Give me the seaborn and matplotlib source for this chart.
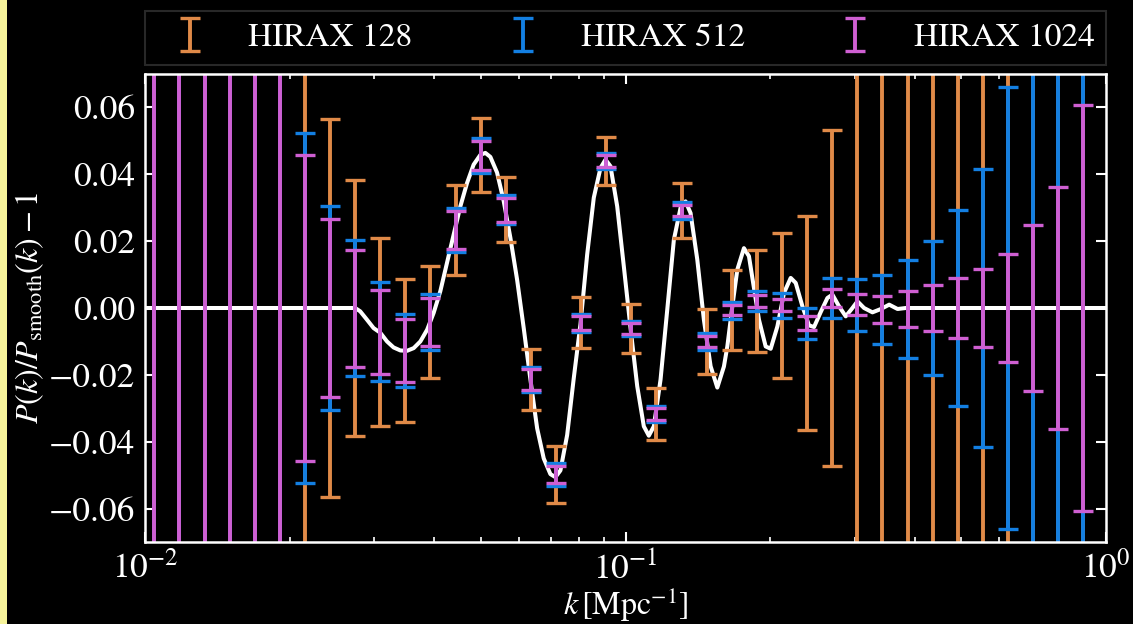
import matplotlib
matplotlib.use("Agg")
import matplotlib.pyplot as plt
import numpy as np
import pandas as pd
import seaborn as sns
from matplotlib.patches import Rectangle
from matplotlib.ticker import LogLocator, NullFormatter, MultipleLocator

# ---------------- data ----------------
k = [0.01046, 0.01179, 0.01330, 0.01500, 0.01692, 0.01908, 0.02152, 0.02427,
     0.02738, 0.03088, 0.03482, 0.03928, 0.04430, 0.04996, 0.05635, 0.06356,
     0.07168, 0.08085, 0.09118, 0.1028, 0.1160, 0.1308, 0.1476, 0.1664,
     0.1877, 0.2117, 0.2387, 0.2693, 0.3037, 0.3425, 0.3863, 0.4357,
     0.4914, 0.5542, 0.6251, 0.7050, 0.7952, 0.8968]

center = [0, 0, 0, 0, 0, 0, 0, 0, 0,
          -0.0071, -0.0127, -0.0042, 0.0233, 0.0457, 0.0294, -0.0214, -0.0498,
          -0.0044, 0.0439, -0.0062, -0.0316, 0.0291, -0.0100, -0.0007, 0.0021,
          0.0008, -0.0046, 0.0030, 0.0010, -0.0004, -0.0003,
          0, 0, 0, 0, 0, 0, 0]

err_128 = [0.9, 0.75, 0.6, 0.45, 0.3, 0.2, 0.10, 0.0565, 0.0382, 0.0281,
           0.0215, 0.0167, 0.0134, 0.0111, 0.0098, 0.0090, 0.0084, 0.0076,
           0.0072, 0.0073, 0.0078, 0.0083, 0.0097, 0.0120, 0.0153, 0.0217,
           0.0320, 0.0502, 0.08, 0.11, 0.15, 0.21, 0.29, 0.40, 0.55, 0.75,
           1.0, 1.4]

err_512 = [0.5, 0.42, 0.34, 0.27, 0.2, 0.14, 0.0524, 0.0305, 0.0203, 0.0148,
           0.0109, 0.0083, 0.0066, 0.0052, 0.0043, 0.0038, 0.0033, 0.0027,
           0.0024, 0.0023, 0.0024, 0.0025, 0.0025, 0.0026, 0.0031, 0.0037,
           0.0046, 0.0060, 0.0078, 0.0104, 0.0147, 0.0199, 0.0292, 0.0417,
           0.0660, 0.095, 0.135, 0.19]

err_1024 = [0.40, 0.32, 0.26, 0.20, 0.15, 0.11, 0.0457, 0.0266, 0.0175, 0.0126,
            0.0095, 0.0073, 0.0056, 0.0044, 0.0036, 0.0031, 0.0026, 0.0021,
            0.0018, 0.0017, 0.0018, 0.0017, 0.0016, 0.0015, 0.0017, 0.0018,
            0.0021, 0.0027, 0.0032, 0.0041, 0.0053, 0.0068, 0.0089, 0.0118,
            0.0163, 0.0249, 0.0363, 0.0607]

curve_k = [0.0100, 0.02738, 0.02805, 0.02897, 0.02990, 0.03088, 0.03189, 0.03291,
           0.03400, 0.03511, 0.03624, 0.03742, 0.03865, 0.03987, 0.04117, 0.04251,
           0.04388, 0.04532, 0.04680, 0.04830, 0.04988, 0.05109, 0.05233, 0.05404,
           0.05578, 0.05760, 0.05948, 0.06140, 0.06340, 0.06548, 0.06758, 0.06978,
           0.07148, 0.07321, 0.07561, 0.07804, 0.08059, 0.08322, 0.08590, 0.08871,
           0.09086, 0.09306, 0.09610, 0.09919, 0.10243, 0.10578, 0.10918, 0.11183,
           0.11454, 0.11829, 0.12215, 0.12608, 0.13020, 0.13335, 0.13659, 0.14105,
           0.14559, 0.15035, 0.15526, 0.16026, 0.16290, 0.16685, 0.17090, 0.17640,
           0.18068, 0.18506, 0.18956, 0.19575, 0.20052, 0.20707, 0.21372, 0.22071,
           0.22606, 0.23345, 0.24095, 0.24680, 0.25486, 0.26317, 0.26956, 0.27823,
           0.28730, 0.29669, 0.30389, 0.31366, 0.32655, 0.33999, 0.35380, 0.36834,
           0.38312, 1.0]

curve_ratio = [0, 0, -0.0010, -0.0035, -0.0060, -0.0074, -0.0100, -0.0118,
               -0.0127, -0.0128, -0.0120, -0.0100, -0.0065, -0.0015, 0.0050, 0.0135,
               0.0219, 0.0304, 0.0374, 0.0429, 0.0458, 0.0464, 0.0452, 0.0405,
               0.0320, 0.0210, 0.0085, -0.0060, -0.0214, -0.0360, -0.0450, -0.0497,
               -0.0506, -0.0486, -0.0380, -0.0210, -0.0048, 0.0160, 0.0330, 0.0419,
               0.0444, 0.0424, 0.0304, 0.0125, -0.0060, -0.0234, -0.0354, -0.0382,
               -0.0354, -0.0214, -0.0005, 0.0204, 0.0300, 0.0319, 0.0284, 0.0145,
               -0.0035, -0.0174, -0.0238, -0.0175, -0.0115, 0.0005, 0.0115, 0.0179,
               0.0155, 0.0060, -0.0035, -0.0115, -0.0122, -0.0055, 0.0045, 0.0090,
               0.0075, 0.0005, -0.0052, -0.0057, -0.0012, 0.0030, 0.0040, 0.0005,
               -0.0025, 0.0000, 0.0020, 0.0000, -0.0013, -0.0003, 0.0010, -0.0003,
               0.0000, 0.0]

labels = ["HIRAX 128", "HIRAX 512", "HIRAX 1024"]
colors = ["#e08a48", "#137fe2", "#cf5fd2"]

# ---------------- style ----------------
sns.set_style("ticks", rc={
    "axes.facecolor": "black",
    "figure.facecolor": "black",
    "axes.edgecolor": "white",
    "axes.labelcolor": "white",
    "xtick.color": "white",
    "ytick.color": "white",
    "text.color": "white",
})
plt.rcParams["font.family"] = ["STIXGeneral", "DejaVu Serif"]
plt.rcParams["mathtext.fontset"] = "stix"

W, H = 1133, 624
fig = plt.figure(figsize=(W / 100, H / 100), dpi=100)
ax = fig.add_axes([145 / W, 1 - 542 / H, (1106 - 145) / W, (542 - 74) / H])

# yellow strip on the left edge
fig.patches.append(Rectangle((0, 0), 7 / W, 1, transform=fig.transFigure,
                             facecolor="#f6f39a", edgecolor="none", zorder=-5))

df_curve = pd.DataFrame({"k": curve_k, "ratio": curve_ratio})
sns.lineplot(data=df_curve, x="k", y="ratio", ax=ax, color="white", lw=2.9,
             estimator=None, sort=False, zorder=1)
for ln in ax.get_lines():
    ln.set_solid_joinstyle("round")

for err, c, lab in zip([err_128, err_512, err_1024], colors, labels):
    ax.errorbar(k, center, yerr=err, fmt="none", ecolor=c, elinewidth=2.8,
                capsize=7, capthick=2.4, label=lab, zorder=2)

ax.set_xscale("log")
ax.set_xlim(0.01, 1.0)
ax.set_ylim(-0.07, 0.07)
ax.yaxis.set_major_locator(MultipleLocator(0.02))
ax.xaxis.set_major_locator(LogLocator(base=10, numticks=10))
ax.xaxis.set_minor_locator(LogLocator(base=10, subs=np.arange(2, 10), numticks=20))
ax.xaxis.set_minor_formatter(NullFormatter())

for s in ax.spines.values():
    s.set_color("white")
    s.set_linewidth(1.8)
ax.tick_params(which="both", direction="in", top=True, right=True, colors="white")
ax.tick_params(which="major", length=7, width=1.5, labelsize=25.5, pad=7)
ax.tick_params(which="minor", length=3.5, width=1.2)

ax.set_xlabel(r"$k\,[\mathrm{Mpc}^{-1}]$", fontsize=23, labelpad=-1)
ax.set_ylabel(r"$P(k)/P_{\mathrm{smooth}}(k)-1$", fontsize=23, labelpad=2)

leg = ax.legend(loc="lower left", bbox_to_anchor=(0, 1.02, 1, 0.117), mode="expand",
                ncol=3, frameon=True, fancybox=False, fontsize=24,
                borderaxespad=0, handletextpad=0.75, borderpad=0.35,
                handlelength=2.0)
leg.get_frame().set_facecolor("black")
leg.get_frame().set_edgecolor("#333333")
leg.get_frame().set_linewidth(1.5)
for t in leg.get_texts():
    t.set_color("white")

fig.savefig("out.png", dpi=100, facecolor="black")
